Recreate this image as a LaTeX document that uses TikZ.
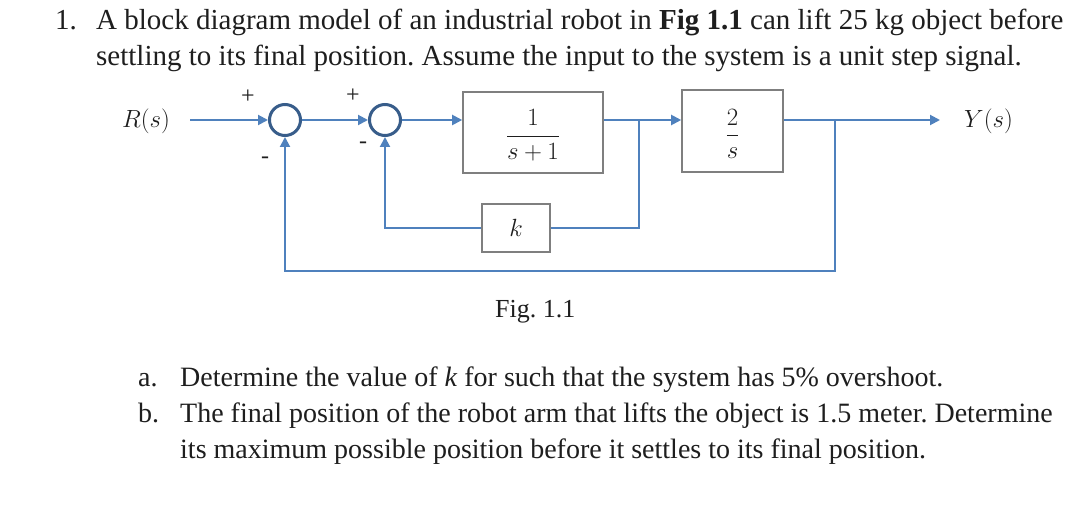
\documentclass[tikz,border=0pt]{standalone}
\usepackage{fontspec}
\setmainfont{Liberation Serif}
\usetikzlibrary{arrows.meta}
\definecolor{sigc}{HTML}{4F81BD}
\definecolor{sumc}{HTML}{385D8A}
\definecolor{blkc}{HTML}{7F7F7F}
\definecolor{txtc}{HTML}{1E1E1E}
\begin{document}
\frenchspacing
\begin{tikzpicture}[x=1pt,y=-1pt,
  sigline/.style={draw=sigc, line width=2pt},
  arr/.style={sigline, -{Triangle[length=10pt,width=10pt]}},
  sumnode/.style={circle, draw=sumc, line width=3pt, minimum size=31pt, inner sep=0pt},
  blockbox/.style={draw=blkc, line width=1.6pt, inner sep=0pt, text=txtc},
  lbl/.style={font=\fontsize{28}{32}\selectfont, text=txtc},
  fraclbl/.style={font=\fontsize{30}{34}\selectfont, text=txtc},
  sgn/.style={font=\fontsize{24}{26}\selectfont, text=txtc},
  txt/.style={font=\fontsize{29}{33}\selectfont, anchor=base west, inner sep=0pt, text=txtc},
  parttxt/.style={font=\fontsize{28}{33}\selectfont, anchor=base west, inner sep=0pt, text=txtc},
  figtxt/.style={font=\fontsize{26}{30}\selectfont, anchor=base west, inner sep=0pt, text=txtc},
]
\useasboundingbox[fill=white] (0,0) rectangle (1080,513);

% question text
\node[txt] (n1) at (55,30) {1.};
\node[txt] (l1) at (96,30) {A block diagram model of an industrial robot in \textbf{Fig 1.1} can lift 25 kg object before};
\node[txt] (l2) at (96,66) {settling to its final position. Assume the input to the system is a unit step signal.};

% diagram
\node[lbl] (R) at (146,121) {$R(s)$};
\coordinate (rstart) at (190,120);
\node[sumnode] (s1) at (285,120) {};
\node[sumnode] (s2) at (385,120) {};
\node[blockbox, minimum width=140pt, minimum height=81pt] (b1) at (533,132.5) {};
\node[fraclbl, inner sep=0pt] (f1) at (533,135) {$\displaystyle\frac{1}{s+1}$};
\node[blockbox, minimum width=101pt, minimum height=82pt] (b2) at (732.5,131) {};
\node[fraclbl, inner sep=0pt] (f2) at (732.5,134) {$\displaystyle\frac{2}{s}$};
\node[blockbox, minimum width=68pt, minimum height=48pt, fraclbl] (k) at (516,228) {$k$};
\node[lbl, anchor=west, inner sep=0pt] (Y) at (964,121) {$Y(s)$};
\coordinate (yend) at (940,120);
\coordinate (j1) at (639,120);
\coordinate (j2) at (835,120);
\coordinate (c1) at (835,271);

\node[sgn] (p1) at (248,97) {+};
\node[sgn] (p2) at (353,96) {+};
\node[sgn] (m1) at (265,160) {-};
\node[sgn] (m2) at (363,145) {-};

\draw[arr] (rstart) -- (s1.west);
\draw[arr] (s1.east) -- (s2.west);
\draw[arr] (s2.east) -- (s2.east -| b1.west);
\draw[arr] (b1.east |- s2) -- (b2.west |- s2);
\draw[arr] (b2.east |- s2) -- (yend);
\draw[sigline] (j1) |- (k.east);
\draw[arr] (k.west) -| (s2.south);
\draw[arr] (j2) -- (c1) -| (s1.south);

\node[figtxt] (fig) at (495,318) {Fig. 1.1};

% parts
\node[parttxt] (a) at (138,386) {a.};
\node[parttxt] (la) at (180,386) {Determine the value of \textit{k} for such that the system has 5\% overshoot.};
\node[parttxt] (b) at (138,422) {b.};
\node[parttxt] (lb) at (180,422) {The final position of the robot arm that lifts the object is 1.5 meter. Determine};
\node[parttxt] (lc) at (180,458) {its maximum possible position before it settles to its final position.};
\end{tikzpicture}
\end{document}
